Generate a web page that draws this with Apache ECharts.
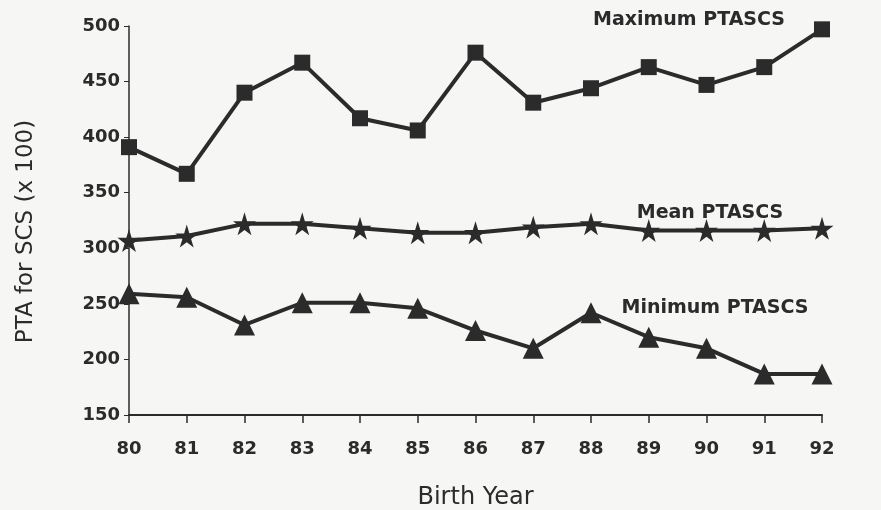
<!DOCTYPE html>
<html><head><meta charset="utf-8">
<script src="https://cdn.jsdelivr.net/npm/echarts@6/dist/echarts.min.js"></script>
<style>html,body{margin:0;padding:0;background:#f6f6f4}#c{width:881px;height:510px}</style>
</head><body><div id="c"></div>
<script>
const years = ['80','81','82','83','84','85','86','87','88','89','90','91','92'];
const maxPTASCS = [391, 367, 440, 467, 417, 406, 476, 431, 444, 463, 447, 463, 497];
const meanPTASCS = [307, 311, 322, 322, 318, 314, 314, 319, 322, 316, 316, 316, 318];
const minPTASCS = [259, 256, 231, 251, 251, 246, 226, 210, 242, 220, 210, 187, 187];
const yTicks = {min:150, max:500, interval:50};

const ink = '#2b2b2b';
const font = 'DejaVu Sans';
const chart = echarts.init(document.getElementById('c'));
const lineSeries = (name, data, symbol, size) => ({
  name, type:'line', data, symbol, symbolSize:size,
  lineStyle:{color:ink, width:4}, itemStyle:{color:ink}, z:3, animation:false
});
chart.setOption({
  backgroundColor:'#f6f6f4',
  animation:false,
  grid:{left:129, right:59, top:26, bottom:95, containLabel:false, outerBoundsMode:'none'},
  xAxis:{type:'category', data:years, boundaryGap:false,
    name:'Birth Year', nameLocation:'middle', nameGap:71,
    nameTextStyle:{fontFamily:font, fontSize:24, color:ink},
    axisLine:{lineStyle:{color:ink, width:2}},
    axisTick:{show:true, length:8, lineStyle:{color:ink, width:1.5}},
    axisLabel:{fontFamily:font, fontSize:18, fontWeight:'bold', color:ink, margin:25}},
  yAxis:{type:'value', min:yTicks.min, max:yTicks.max, interval:yTicks.interval,
    name:'PTA for SCS (x 100)', nameLocation:'middle', nameGap:91,
    nameTextStyle:{fontFamily:font, fontSize:23, color:ink, padding:[0, 22, 0, 0]},
    splitLine:{show:false},
    axisLine:{show:true, lineStyle:{color:ink, width:1.5}},
    axisTick:{show:true, length:5, lineStyle:{color:ink}},
    axisLabel:{fontFamily:font, fontSize:18, fontWeight:'bold', color:ink, margin:9}},
  series:[
    lineSeries('Maximum PTASCS', maxPTASCS, 'rect', 16),
    lineSeries('Mean PTASCS', meanPTASCS, 'path://M50,0 L61,35 L98,35 L68,57 L79,91 L50,70 L21,91 L32,57 L2,35 L39,35 Z', 23),
    lineSeries('Minimum PTASCS', minPTASCS, 'triangle', 21)
  ],
  graphic:[
    {type:'text', style:{x:689, y:20, align:'center', verticalAlign:'middle', text:'Maximum PTASCS', font:'bold 19px "DejaVu Sans"', fill:ink}},
    {type:'text', style:{x:710, y:213, align:'center', verticalAlign:'middle', text:'Mean PTASCS', font:'bold 19px "DejaVu Sans"', fill:ink}},
    {type:'text', style:{x:715, y:308, align:'center', verticalAlign:'middle', text:'Minimum PTASCS', font:'bold 19px "DejaVu Sans"', fill:ink}}
  ]
});
</script></body></html>
